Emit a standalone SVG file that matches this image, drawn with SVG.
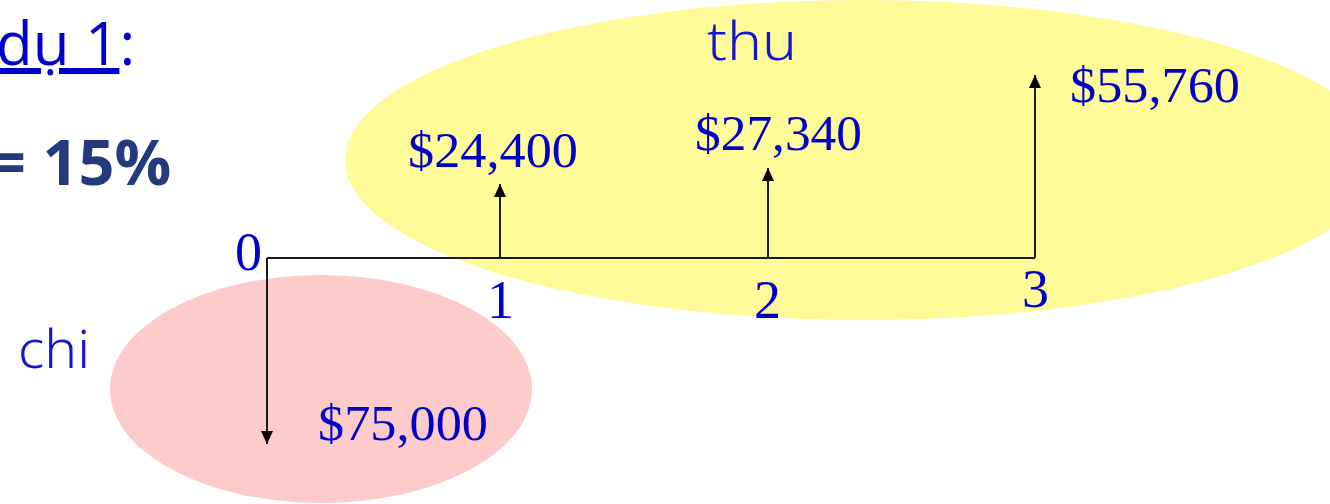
<svg xmlns="http://www.w3.org/2000/svg" width="1330" height="504" viewBox="0 0 1330 504">
<style>
.num{font-family:"Liberation Serif","Times New Roman",serif;font-size:50px;fill:#0000c8}
.tick{font-family:"Liberation Serif","Times New Roman",serif;font-size:54px;fill:#0000c8}
.hand{font-family:"Noto Sans",sans-serif;font-size:54px;fill:#1515d0;font-weight:300}
.conn{stroke:#1a1a1a;stroke-width:2;fill:none}
</style>
<defs>
<marker id="ah" viewBox="0 0 13 12" refX="13" refY="6" markerWidth="13" markerHeight="12" markerUnits="userSpaceOnUse" orient="auto">
<path d="M0,0 L13,6 L0,12 Z" fill="#000"/>
</marker>
</defs>
<rect width="1330" height="504" fill="#fff"/>
<g id="thu-region">
<ellipse cx="863" cy="160" rx="518" ry="160" fill="#fffb99"/>
<text class="hand" x="707" y="60" textLength="90" lengthAdjust="spacingAndGlyphs">thu</text>
</g>
<g id="chi-region">
<ellipse cx="321" cy="389" rx="211" ry="114" fill="#fecbcb"/>
<text class="hand" x="18" y="368" textLength="72" lengthAdjust="spacingAndGlyphs">chi</text>
</g>
<g id="title">
<text x="-4" y="65" font-family="'Open Sans',sans-serif" font-size="60" fill="#0000cc"><tspan text-decoration="underline">dụ 1</tspan>:</text>
<text x="-10" y="185" font-family="'Open Sans',sans-serif" font-size="63" font-weight="bold" fill="#233a7e">= 15%</text>
</g>
<g id="connectors">
<path class="conn" d="M267,258 H1035"/>
<path class="conn" d="M267,258 V444" marker-end="url(#ah)"/>
<path class="conn" d="M500,258 V184" marker-end="url(#ah)"/>
<path class="conn" d="M768,258 V168" marker-end="url(#ah)"/>
<path class="conn" d="M1035,258 V75" marker-end="url(#ah)"/>
</g>
<g id="t0"><text class="tick" x="235" y="270">0</text></g>
<g id="t1"><text class="tick" x="487" y="318">1</text></g>
<g id="t2"><text class="tick" x="754" y="318">2</text></g>
<g id="t3"><text class="tick" x="1022" y="307">3</text></g>
<g id="cf1"><text class="num" x="408" y="167" textLength="170" lengthAdjust="spacingAndGlyphs">$24,400</text></g>
<g id="cf2"><text class="num" x="695" y="150" textLength="167" lengthAdjust="spacingAndGlyphs">$27,340</text></g>
<g id="cf3"><text class="num" x="1070" y="102" textLength="170" lengthAdjust="spacingAndGlyphs">$55,760</text></g>
<g id="cf0"><text class="num" x="318" y="440" textLength="170" lengthAdjust="spacingAndGlyphs">$75,000</text></g>
</svg>
